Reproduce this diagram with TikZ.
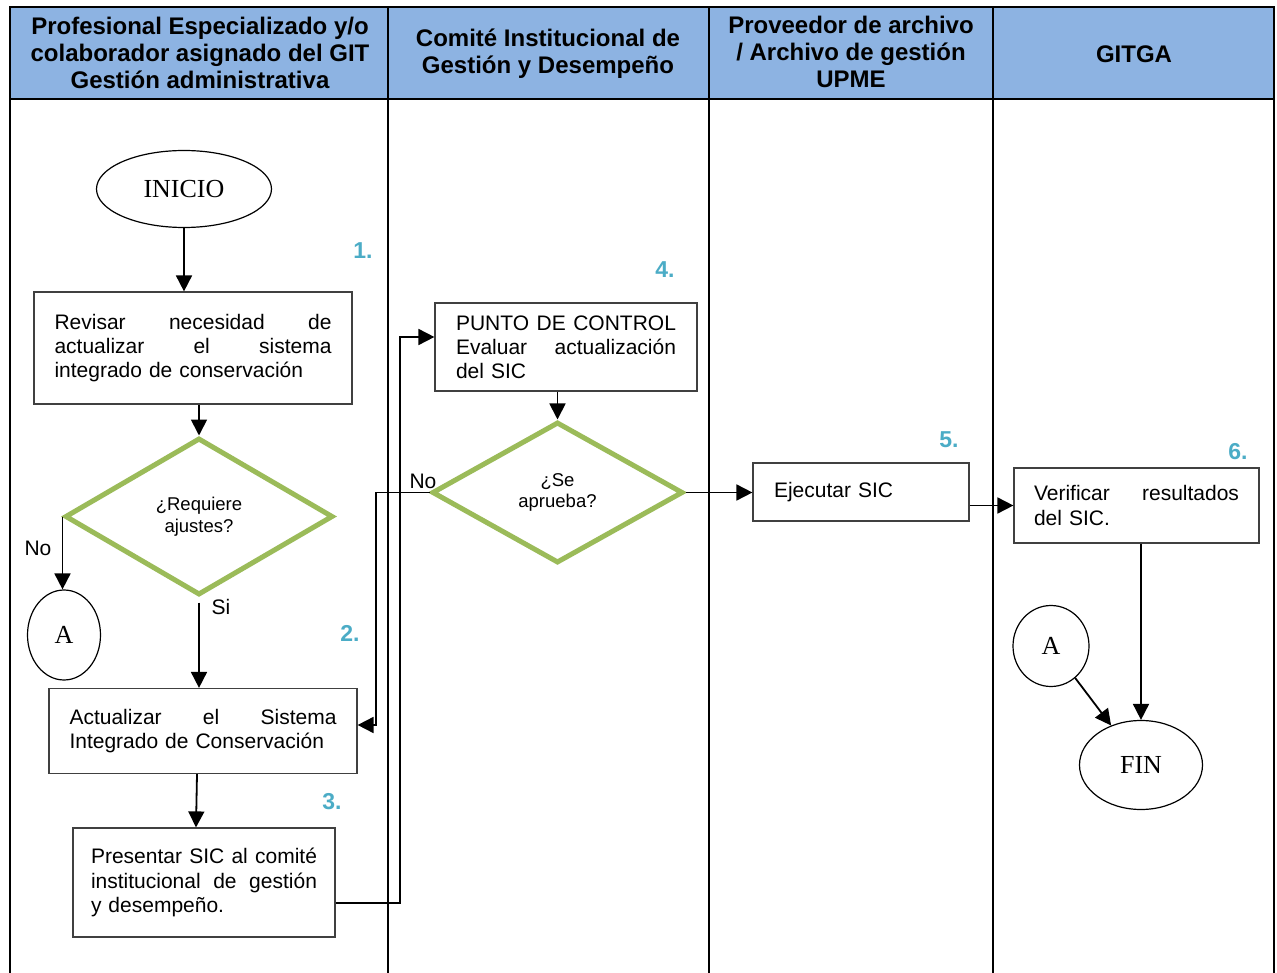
\documentclass[tikz,border=0pt]{standalone}
\usepackage{fontspec}
\setmainfont{Liberation Serif}
\newfontfamily\arialf{Liberation Sans}
\usetikzlibrary{shapes.geometric,arrows.meta}
\definecolor{headblue}{HTML}{8DB3E2}
\definecolor{decgreen}{HTML}{9BBB59}
\definecolor{stepcol}{HTML}{4BACC6}
\definecolor{boxline}{HTML}{404040}
% a line of text stretched to the full width of its box
% (align=left fixes the interword space, so it is released here)
\newcommand\justline[1]{\makebox[\hsize][s]{\spaceskip=0pt\xspaceskip=0pt #1}}

\begin{document}
\begin{tikzpicture}[x=1pt,y=-1pt,
  lane/.style={line width=2.8pt},
  head/.style={font=\arialf\bfseries\fontsize{24}{27}\selectfont, align=center},
  task/.style={draw=boxline, line width=1.2pt, rectangle, inner sep=0pt, align=left,
    font=\arialf\fontsize{21}{24.2}\selectfont},
  decision/.style={diamond, draw=decgreen, line width=5pt, inner sep=0pt, align=center,
    font=\arialf\fontsize{18.5}{21.5}\selectfont},
  terminal/.style={ellipse, draw, line width=1.2pt, inner sep=0pt,
    font=\fontsize{26}{30}\selectfont},
  stepno/.style={text=stepcol, font=\arialf\bfseries\fontsize{23}{26}\selectfont},
  lbl/.style={font=\arialf\fontsize{21}{24}\selectfont},
  arr/.style={line width=1.8pt, -{Triangle[length=16pt,width=16pt]}}
]
\useasboundingbox (0,0) rectangle (1277,973);
\fill[white] (0,0) rectangle (1277,973);

% swimlane table
\fill[headblue] (10,7) rectangle (1274,99);
\draw[lane] (10,985) -- (10,7) -- (1274,7) -- (1274,985);
\draw[lane] (10,99) -- (1274,99);
\foreach \lx in {388,709,993} \draw[lane] (\lx,7) -- (\lx,985);

\node[head] (h1) at (200,53) {Profesional Especializado y/o\\colaborador asignado del GIT\\Gestión administrativa};
\node[head] (h2) at (548,54) {Comité Institucional de\\Gestión y Desempeño};
\node[head] (h3) at (851,52) {Proveedor de archivo\\/ Archivo de gestión\\UPME};
\node[head] (h4) at (1134,54) {GITGA};

% shapes
\node[terminal, minimum width=175, minimum height=77] (inicio) at (184,189) {INICIO};
\node[task, minimum width=318, minimum height=112, text width=277pt] (b1) at (193,348)
  {\justline{Revisar necesidad de}\\\justline{actualizar el sistema}\\integrado de conservación};
\node[decision, minimum width=268, minimum height=157] (d1) at (199,516.5) {¿Requiere\\ajustes?};
\node[terminal, minimum width=73, minimum height=90] (a1) at (64,635) {A};
\node[task, minimum width=308, minimum height=85, text width=267pt] (b2) at (203,731)
  {\justline{Actualizar el Sistema}\\Integrado de Conservación};
\node[task, minimum width=262, minimum height=109, text width=226pt] (b3) at (204,882.5)
  {\justline{Presentar SIC al comité}\\\justline{institucional de gestión}\\y desempeño.};
\node[task, minimum width=262, minimum height=88, text width=220pt] (b4) at (566,347)
  {\justline{PUNTO DE CONTROL}\\\justline{Evaluar actualización}\\del SIC};
\node[decision, minimum width=251, minimum height=141] (d2) at (557.5,492.5) {¿Se\\aprueba?};
\node[task, minimum width=216, minimum height=58, text width=174pt] (b5) at (861,492) {Ejecutar SIC};
\node[task, minimum width=245, minimum height=75, text width=205pt] (b6) at (1136.5,505.5)
  {\justline{Verificar resultados}\\del SIC.};
\node[terminal, minimum width=76, minimum height=81] (a2) at (1051,646) {A};
\node[terminal, minimum width=123, minimum height=89] (fin) at (1141,765) {FIN};

% step numbers
\node[stepno] (s1) at (363,251) {1.};
\node[stepno] (s2) at (350,633) {2.};
\node[stepno] (s3) at (332,802) {3.};
\node[stepno] (s4) at (665,270) {4.};
\node[stepno] (s5) at (949,440) {5.};
\node[stepno] (s6) at (1238,452) {6.};

% branch labels
\node[lbl] (lno1) at (38,548) {No};
\node[lbl] (lsi) at (221,607) {Si};
\node[lbl] (lno2) at (423,481) {No};

% connectors
\coordinate (r1) at (400,903);
\coordinate (r2) at (376,725);
\draw[arr] (inicio.south) -- (inicio.south |- b1.north);
\draw[arr] (d1.north |- b1.south) -- (d1.north);
\draw[arr] (d1.west) -- (d1.west |- a1.north);
\draw[arr] ([yshift=-5pt]d1.south) -- (d1.south |- b2.north);
\draw[arr] ([xshift=-6pt]b2.south) -- ([xshift=-8pt]b3.north);
\draw[arr] (b3.east |- r1) -- (r1) |- ([yshift=10pt]b4.west);
\draw[arr] (d2.north |- b4.south) -- (d2.north);
\draw[arr] (d2.west) -| (r2) -- (b2.east |- r2);
\draw[arr] (d2.east) -- (b5.west |- d2.east);
\draw[arr] (b5.east |- b6.west) -- (b6.west);
\draw[arr] (fin.north |- b6.south) -- (fin.north);
\draw[arr] (a2) -- (fin);
\end{tikzpicture}
\end{document}
